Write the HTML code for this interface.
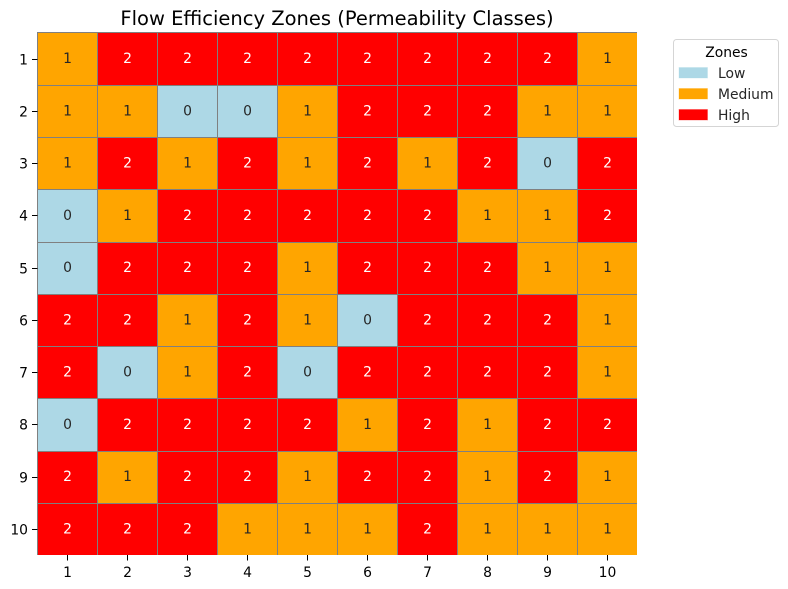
<!DOCTYPE html>
<html>
<head>
<meta charset="utf-8">
<style>
html,body{margin:0;padding:0;background:#fff;width:788px;height:589px;overflow:hidden}
svg{display:block;font-family:"DejaVu Sans","Liberation Sans",sans-serif}
</style>
</head>
<body>
<svg id="chart" width="788" height="589" viewBox="0 0 788 589" xmlns="http://www.w3.org/2000/svg">
<text x="337" y="25" font-size="19.5" text-anchor="middle" fill="#000">Flow Efficiency Zones (Permeability Classes)</text>
<g id="cells"></g>
<g id="xticks"></g>
<g id="yticks"></g>
<g>
<rect x="673.5" y="39.5" width="105" height="87" rx="3" fill="#fff" stroke="#d5d5d5" stroke-width="1"/>
<text x="726.5" y="57" font-size="13.89" text-anchor="middle" fill="#000">Zones</text>
<g id="legend-entries"></g>
</g>
</svg>
<script>
const rowLabels = ["1","2","3","4","5","6","7","8","9","10"];
const colLabels = ["1","2","3","4","5","6","7","8","9","10"];
const zoneNames = ["Low","Medium","High"];
const zoneColors = ["#add8e6","#ffa500","#ff0000"];
const zoneTextColors = ["#262626","#262626","#ffffff"];
const row1 = [1,2,2,2,2,2,2,2,2,1];
const row2 = [1,1,0,0,1,2,2,2,1,1];
const row3 = [1,2,1,2,1,2,1,2,0,2];
const row4 = [0,1,2,2,2,2,2,1,1,2];
const row5 = [0,2,2,2,1,2,2,2,1,1];
const row6 = [2,2,1,2,1,0,2,2,2,1];
const row7 = [2,0,1,2,0,2,2,2,2,1];
const row8 = [0,2,2,2,2,1,2,1,2,2];
const row9 = [2,1,2,2,1,2,2,1,2,1];
const row10 = [2,2,2,1,1,1,2,1,1,1];
const grid = [row1,row2,row3,row4,row5,row6,row7,row8,row9,row10];

const NS = "http://www.w3.org/2000/svg";
const plotLeft = 37.5, plotRight = 637.5, plotTop = 32.5, plotBottom = 555;
function xPos(col){ return plotLeft + col * (plotRight - plotLeft) / colLabels.length; }
function yPos(row){ return plotTop + row * (plotBottom - plotTop) / rowLabels.length; }
function snapRow(row){ return row === 0 ? 32.5 : Math.round(yPos(row)) + 0.5; }
function make(tag, attrs, parent, text){
  const el = document.createElementNS(NS, tag);
  for (const k in attrs) el.setAttribute(k, attrs[k]);
  if (text !== undefined) el.textContent = text;
  parent.appendChild(el);
  return el;
}

const cells = document.getElementById("cells");
grid.forEach(function(values, r){
  values.forEach(function(v, c){
    const x0 = xPos(c), x1 = c === colLabels.length - 1 ? 637 : xPos(c + 1);
    const y0 = snapRow(r), y1 = r === rowLabels.length - 1 ? plotBottom : snapRow(r + 1);
    const rect = make("rect", {x:x0, y:y0, width:x1-x0, height:y1-y0, fill:zoneColors[v], "shape-rendering":"crispEdges"}, cells);
    
    
  });
});
for (let c = 0; c < colLabels.length; c++){
  const line = make("line", {x1:xPos(c), x2:xPos(c), y1:32, y2:plotBottom, stroke:"#808080", "stroke-width":1}, cells);
  
  
}
for (let r = 0; r < rowLabels.length; r++){
  const line = make("line", {x1:37, x2:637, y1:snapRow(r), y2:snapRow(r), stroke:"#808080", "stroke-width":1}, cells);
  
  
}
grid.forEach(function(values, r){
  values.forEach(function(v, c){
    const label = make("text", {x:(xPos(c)+xPos(c+1))/2, y:(yPos(r)+yPos(r+1))/2+4.5, "font-size":13.89, "text-anchor":"middle", fill:zoneTextColors[v]}, cells, String(v));
    
    
  });
});

const xticks = document.getElementById("xticks");
colLabels.forEach(function(t, c){
  const x = (xPos(c)+xPos(c+1))/2;
  const tick = make("line", {x1:x, x2:x, y1:plotBottom, y2:plotBottom+5.5, stroke:"#000", "stroke-width":1}, xticks);
  
  
  const label = make("text", {x:x, y:577, "font-size":13.89, "text-anchor":"middle", fill:"#000"}, xticks, t);
  
  
});
const yticks = document.getElementById("yticks");
rowLabels.forEach(function(t, r){
  const y = Math.round((yPos(r)+yPos(r+1))/2) + 0.5;
  const tick = make("line", {x1:plotLeft-5.5, x2:plotLeft, y1:y, y2:y, stroke:"#000", "stroke-width":1}, yticks);
  
  
  const label = make("text", {x:plotLeft-9.5, y:y+5, "font-size":13.89, "text-anchor":"end", fill:"#000"}, yticks, t);
  
  
});

const legend = document.getElementById("legend-entries");
zoneNames.forEach(function(name, i){
  const y = 67.5 + i * 21;
  const swatch = make("rect", {x:679, y:y, width:28.5, height:10.5, fill:zoneColors[i], stroke:zoneColors[i], "stroke-opacity":0.3, "stroke-width":1}, legend);
  
  
  const label = make("text", {x:718, y:y+10.5, "font-size":13.89, fill:"#262626"}, legend, name);
  
  
});
</script>
</body>
</html>
